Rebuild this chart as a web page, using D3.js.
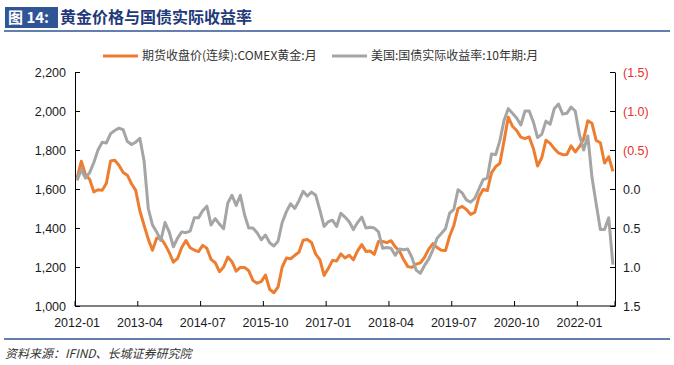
<!doctype html>
<html lang="zh">
  <head>
    <meta charset="utf-8">
    <title>黄金价格与国债实际收益率</title>
    <script src="https://d3js.org/d3.v7.min.js"></script>
    <style>
      body { margin: 0; background: #fff; }
      text { font-family: "Liberation Sans", Arial, "Noto Sans CJK SC", sans-serif; }
      .cjk { font-family: "Noto Sans CJK SC", "Liberation Sans", sans-serif; }
      .axis path, .axis line { stroke: #000; }
      .axis text { font-size: 12.5px; }
    </style>
  </head>
  <body>
    <script>

      // 期货收盘价(连续):COMEX黄金:月 (monthly average, 2012-01 .. 2022-09)
      var gold = [
        1656, 1742, 1673, 1650, 1585, 1596, 1594, 1630, 1744, 1747, 1722, 1685,
        1671, 1627, 1593, 1487, 1414, 1343, 1286, 1347, 1349, 1316, 1275, 1225,
        1244, 1300, 1336, 1299, 1287, 1279, 1311, 1296, 1239, 1222, 1176, 1200,
        1251, 1227, 1179, 1198, 1198, 1181, 1131, 1117, 1125, 1159, 1086, 1068,
        1097, 1200, 1246, 1242, 1260, 1276, 1337, 1341, 1326, 1266, 1238, 1157,
        1192, 1234, 1231, 1267, 1246, 1260, 1237, 1283, 1315, 1280, 1282, 1265,
        1331, 1331, 1325, 1335, 1303, 1282, 1238, 1202, 1198, 1215, 1221, 1250,
        1292, 1320, 1300, 1286, 1284, 1359, 1413, 1500, 1511, 1495, 1470, 1480,
        1560, 1597, 1592, 1683, 1715, 1732, 1847, 1968, 1922, 1900, 1866, 1858,
        1867, 1808, 1718, 1760, 1850, 1834, 1807, 1785, 1776, 1777, 1821, 1790,
        1817, 1856, 1950, 1937, 1849, 1837, 1733, 1765, 1690
      ];

      // 美国:国债实际收益率:10年期:月
      var realYield = [
        -0.11, -0.25, -0.14, -0.21, -0.34, -0.50, -0.60, -0.59, -0.71, -0.75, -0.78, -0.76,
        -0.61, -0.57, -0.60, -0.65, -0.36, 0.25, 0.46, 0.55, 0.66, 0.43, 0.55, 0.74,
        0.63, 0.55, 0.56, 0.54, 0.37, 0.37, 0.28, 0.22, 0.46, 0.38, 0.45, 0.51,
        0.18, 0.08, 0.21, 0.08, 0.33, 0.50, 0.50, 0.56, 0.65, 0.59, 0.69, 0.73,
        0.67, 0.43, 0.29, 0.19, 0.25, 0.15, 0.03, 0.09, 0.04, 0.08, 0.27, 0.48,
        0.42, 0.40, 0.48, 0.31, 0.36, 0.42, 0.52, 0.43, 0.36, 0.50, 0.49, 0.50,
        0.55, 0.76, 0.75, 0.76, 0.85, 0.77, 0.78, 0.77, 0.88, 1.04, 1.08, 0.98,
        0.90, 0.78, 0.63, 0.57, 0.51, 0.31, 0.26, 0.01, 0.05, 0.14, 0.17, 0.12,
        0.00, -0.12, -0.14, -0.45, -0.44, -0.62, -0.88, -1.03, -0.97, -0.91, -0.82, -1.00,
        -1.00, -0.86, -0.66, -0.70, -0.87, -0.83, -1.03, -1.09, -0.96, -0.97, -1.05, -1.00,
        -0.70, -0.50, -0.68, -0.15, 0.19, 0.52, 0.52, 0.37, 0.97
      ];

      var xTickLabels = ["2012-01", "2013-04", "2014-07", "2015-10", "2017-01",
                         "2018-04", "2019-07", "2020-10", "2022-01"];
      var leftTicks = [1000, 1200, 1400, 1600, 1800, 2000, 2200];
      var rightTicks = [-1.5, -1.0, -0.5, 0, 0.5, 1.0, 1.5];
      var seriesNames = ["期货收盘价(连续):COMEX黄金:月", "美国:国债实际收益率:10年期:月"];

      // month categories
      var months = gold.map(function(d, i){
        var m = i % 12 + 1, y = 2012 + Math.floor(i / 12);
        return y + "-" + (m < 10 ? "0" + m : m);
      });

      var width = 674, height = 365;
      var plot = {left: 75, right: 615, top: 72, bottom: 306};
      var orange = "#ED7D31", grey = "#A5A5A5", blue = "#2F5597";

      var svg = d3.select("body").append("svg")
          .attr("width", width)
          .attr("height", height);

      // header
      svg.append("rect")
          .attr("x", 5).attr("y", 7).attr("width", 53).attr("height", 21)
          .attr("fill", blue);
      svg.append("text")
          .attr("class", "cjk")
          .attr("x", 8).attr("y", 23)
          .attr("font-size", 15).attr("font-weight", "bold").attr("fill", "#fff")
          .text("图 14:");
      svg.append("text")
          .attr("class", "cjk")
          .attr("x", 60).attr("y", 23)
          .attr("font-size", 16).attr("font-weight", "bold").attr("fill", "#1F3A7A")
          .text("黄金价格与国债实际收益率");
      svg.append("line")
          .attr("x1", 4).attr("x2", 670).attr("y1", 31).attr("y2", 31)
          .attr("stroke", blue).attr("stroke-width", 1.5);

      // footer
      svg.append("line")
          .attr("x1", 4).attr("x2", 670).attr("y1", 339).attr("y2", 339)
          .attr("stroke", blue).attr("stroke-width", 1.5);
      svg.append("text")
          .attr("class", "cjk")
          .attr("x", 5).attr("y", 358)
          .attr("font-size", 12).attr("font-style", "italic").attr("fill", "#333")
          .text("资料来源：IFIND、长城证券研究院");

      // scales
      var x = d3.scaleBand().domain(months).range([plot.left, plot.right]).padding(0);
      var bw = x.bandwidth();
      var yL = d3.scaleLinear().domain([1000, 2200]).range([plot.bottom, plot.top]);
      var yR = d3.scaleLinear().domain([-1.5, 1.5]).range([plot.top, plot.bottom]);

      // axes
      var lAxis = svg.append("g")
          .attr("class", "axis")
          .attr("transform", "translate(" + plot.left + ",0)")
          .call(d3.axisLeft(yL).tickValues(leftTicks).tickSize(-5).tickPadding(9)
                .tickSizeOuter(0).tickFormat(d3.format(",")));
      lAxis.selectAll(".tick text").style("fill", "#1a1a1a");

      var rAxis = svg.append("g")
          .attr("class", "axis")
          .attr("transform", "translate(" + plot.right + ",0)")
          .call(d3.axisRight(yR).tickValues(rightTicks).tickSize(-5).tickPadding(8)
                .tickSizeOuter(0)
                .tickFormat(function(d){
                  var s = d3.format(".1f")(Math.abs(d));
                  return d < 0 ? "(" + s + ")" : s;
                }));
      rAxis.selectAll(".tick text")
          .style("fill", function(d){ return d < 0 ? "#E8302A" : "#1a1a1a"; });

      var xAxis = svg.append("g")
          .attr("class", "axis")
          .attr("transform", "translate(0," + plot.bottom + ")")
          .call(d3.axisBottom(x).tickValues(xTickLabels).tickSize(0).tickPadding(12));
      xAxis.select(".domain").remove();
      xAxis.selectAll(".tick line").remove();
      xAxis.selectAll(".tick text").style("fill", "#1a1a1a");

      svg.append("line")
          .attr("x1", plot.left).attr("x2", plot.right)
          .attr("y1", plot.bottom).attr("y2", plot.bottom)
          .attr("stroke", "#000");
      svg.append("g").selectAll("line")
          .data(xTickLabels.concat([null]))
        .enter().append("line")
          .attr("x1", function(d){ return d ? x(d) : plot.right; })
          .attr("x2", function(d){ return d ? x(d) : plot.right; })
          .attr("y1", plot.bottom).attr("y2", plot.bottom - 5)
          .attr("stroke", "#000");

      // lines
      var goldLine = d3.line()
          .x(function(d, i){ return x(months[i]) + bw / 2; })
          .y(function(d){ return yL(d); });
      var yieldLine = d3.line()
          .x(function(d, i){ return x(months[i]) + bw / 2; })
          .y(function(d){ return yR(d); });

      svg.append("path")
          .datum(gold)
          .attr("d", goldLine)
          .attr("fill", "none").attr("stroke", orange)
          .attr("stroke-width", 3).attr("stroke-linejoin", "round");

      svg.append("path")
          .datum(realYield)
          .attr("d", yieldLine)
          .attr("fill", "none").attr("stroke", grey)
          .attr("stroke-width", 3).attr("stroke-linejoin", "round");

      // legend
      var legend = svg.append("g");
      var legendItems = [
        {name: seriesNames[0], color: orange, x: 103},
        {name: seriesNames[1], color: grey, x: 332}
      ];
      legendItems.forEach(function(d){
        legend.append("line")
            .attr("x1", d.x).attr("x2", d.x + 35)
            .attr("y1", 56).attr("y2", 56)
            .attr("stroke", d.color).attr("stroke-width", 3);
        legend.append("text")
            .attr("class", "cjk")
            .attr("x", d.x + 39).attr("y", 60)
            .attr("font-size", 12).attr("fill", "#333")
            .text(d.name);
      });

    </script>
  </body>
</html>
